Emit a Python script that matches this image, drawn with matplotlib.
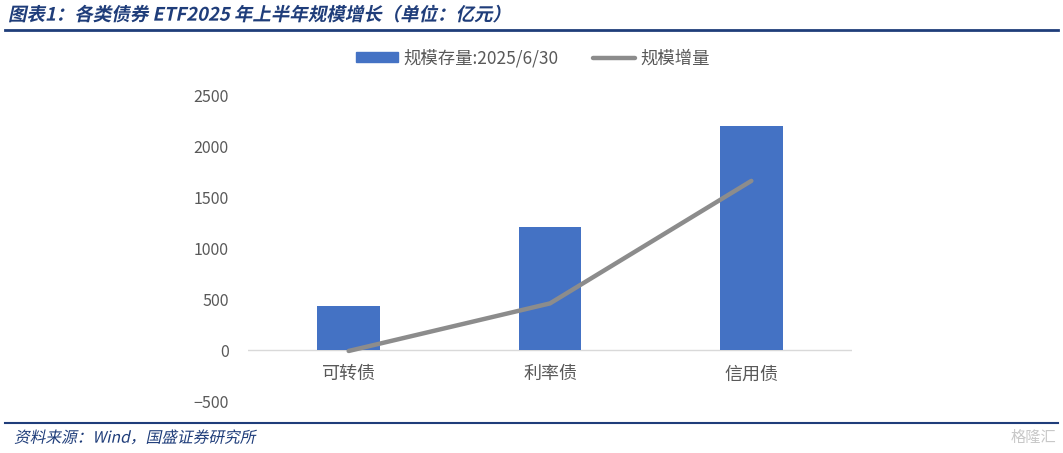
import matplotlib.pyplot as plt
from matplotlib.lines import Line2D
from matplotlib.textpath import TextPath
from matplotlib.patches import PathPatch
from matplotlib.font_manager import FontProperties
from matplotlib.transforms import Affine2D, ScaledTranslation

plt.rcParams['font.family'] = ['Noto Sans CJK SC', 'DejaVu Sans']

categories = ['可转债', '利率债', '信用债']
stock = [433, 1210, 2205]      # 规模存量:2025/6/30
growth = [-8, 460, 1665]       # 规模增量

fig = plt.figure(figsize=(10.63, 4.53), dpi=100)
W, H = 1063, 453
BLUE_DARK = '#1f3d7a'


def slanted_text(px, py, s, size, weight='normal', color=BLUE_DARK):
    # fake italic for CJK text: skewed text path, position in pixels from top-left
    fp = FontProperties(family='Noto Sans CJK SC', weight=weight, size=size)
    tp = TextPath((0, 0), s, prop=fp)
    tr = (Affine2D().skew_deg(12, 0).scale(1 / 72.0)
          + fig.dpi_scale_trans
          + ScaledTranslation(px / 100, (H - py) / 100 - size * 0.36 / 72, fig.dpi_scale_trans))
    patch = PathPatch(tp, transform=tr, color=color, lw=0)
    fig.add_artist(patch)


# plot area in pixels: x 248..852, y 96(2500)..401(-500)
ax = fig.add_axes([248 / W, (H - 401) / H, 604 / W, 305 / H])
ax.set_facecolor('white')

x = range(len(categories))
ax.bar(x, stock, width=0.31, color='#4472C4', zorder=2)
ax.plot(x, growth, color='#8c8c8c', linewidth=3.2, solid_capstyle='round', zorder=3)
ax.axhline(0, color='#d9d9d9', linewidth=1, zorder=1)

ax.set_xlim(-0.5, 2.5)
ax.set_ylim(-500, 2500)
ax.set_yticks([-500, 0, 500, 1000, 1500, 2000, 2500])
ax.set_yticklabels(['−500', '0', '500', '1000', '1500', '2000', '2500'])
ax.set_xticks(list(x))
ax.set_xticklabels(categories)
ax.tick_params(axis='y', length=0, labelsize=11.5, labelcolor='#595959', pad=14)
ax.tick_params(axis='x', length=0, labelsize=13, labelcolor='#595959', pad=6)
for s in ax.spines.values():
    s.set_visible(False)

# x labels sit just under the zero line
for lbl in ax.get_xticklabels():
    lbl.set_transform(lbl.get_transform() + ScaledTranslation(0, 44 / 100, fig.dpi_scale_trans))

handles = [plt.Rectangle((0, 0), 1, 1, color='#4472C4'),
           Line2D([0], [0], color='#8c8c8c', linewidth=3.2, solid_capstyle='round')]
fig.legend(handles, ['规模存量:2025/6/30', '规模增量'], loc='center',
           bbox_to_anchor=(533 / W, 1 - 58 / H), ncol=2, frameon=False,
           fontsize=12.5, labelcolor='#595959', handlelength=2.4, handletextpad=0.3,
           columnspacing=2.0, handleheight=0.5)

# title and decorations
slanted_text(8, 14, '图表1：各类债券 ETF2025 年上半年规模增长（单位：亿元）', 13.3, weight='bold')
fig.add_artist(Line2D([5 / W, 1058 / W], [1 - 30 / H, 1 - 30 / H], color=BLUE_DARK, linewidth=2))
fig.add_artist(Line2D([5 / W, 1058 / W], [1 - 423 / H, 1 - 423 / H], color=BLUE_DARK, linewidth=1.5))
slanted_text(14, 437, '资料来源：Wind，国盛证券研究所', 11.3)
fig.text(1056 / W, 1 - 437 / H, '格隆汇', fontsize=11, color='#c8c8c8',
         va='center', ha='right')

fig.savefig('out.png', dpi=100)
